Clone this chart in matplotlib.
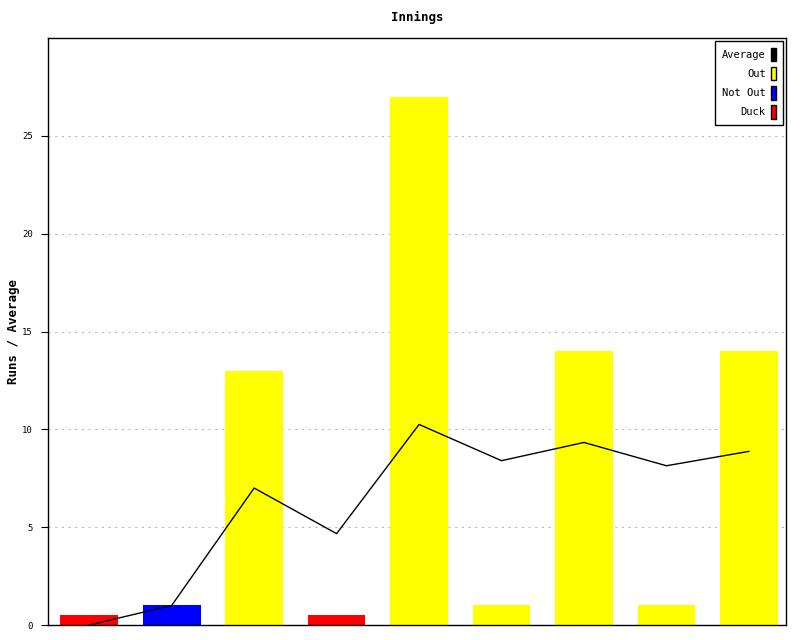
import matplotlib.pyplot as plt
from matplotlib.patches import Patch

innings = list(range(1, 10))
runs = [0.5, 1, 13, 0.5, 27, 1, 14, 1, 14]
status = ['Duck', 'Not Out', 'Out', 'Duck', 'Out', 'Out', 'Out', 'Out', 'Out']
average = [0, 1, 7, 4.67, 10.25, 8.4, 9.33, 8.14, 8.875]

colours = {'Out': '#ffff00', 'Not Out': '#0000ff', 'Duck': '#ff0000'}
plt.rcParams['font.family'] = 'DejaVu Sans Mono'

fig = plt.figure(figsize=(8, 6.4), dpi=100)
ax = fig.add_axes([0.06, 0.0234, 0.9225, 0.9172])

x = list(range(len(innings)))
ax.bar(x, runs, width=0.7, color=[colours[s] for s in status], zorder=2)
ax.plot(x, average, color='black', linewidth=1, zorder=3)

ax.set_xlim(-0.5, 8.45)
ax.set_ylim(0, 30)
ax.set_yticks([0, 5, 10, 15, 20, 25])
ax.tick_params(axis='y', labelsize=6.5, length=5, direction='out', pad=6)
ax.set_xticks([])
ax.grid(axis='y', linestyle=(0, (2, 4)), color='#bbbbbb', linewidth=0.8, zorder=0)
for s in ax.spines.values():
    s.set_linewidth(1)

ax.set_title('Innings', fontsize=9, fontweight='bold', pad=12)
ax.set_ylabel('Runs / Average', fontsize=9, fontweight='bold')
ax.yaxis.set_label_coords(-0.0375, 0.5)

handles = [Patch(facecolor='black', edgecolor='black', label='Average'),
           Patch(facecolor=colours['Out'], edgecolor='black', label='Out'),
           Patch(facecolor=colours['Not Out'], edgecolor='black', label='Not Out'),
           Patch(facecolor=colours['Duck'], edgecolor='black', label='Duck')]
leg = ax.legend(handles=handles, loc='upper right', markerfirst=False, fontsize=7.5,
                handlelength=0.5, handleheight=1.6, handletextpad=0.5,
                labelspacing=0.55, borderpad=0.65, fancybox=False, framealpha=1,
                edgecolor='black', borderaxespad=0.3)
leg.get_frame().set_linewidth(1)

plt.savefig('out.png', dpi=100)
